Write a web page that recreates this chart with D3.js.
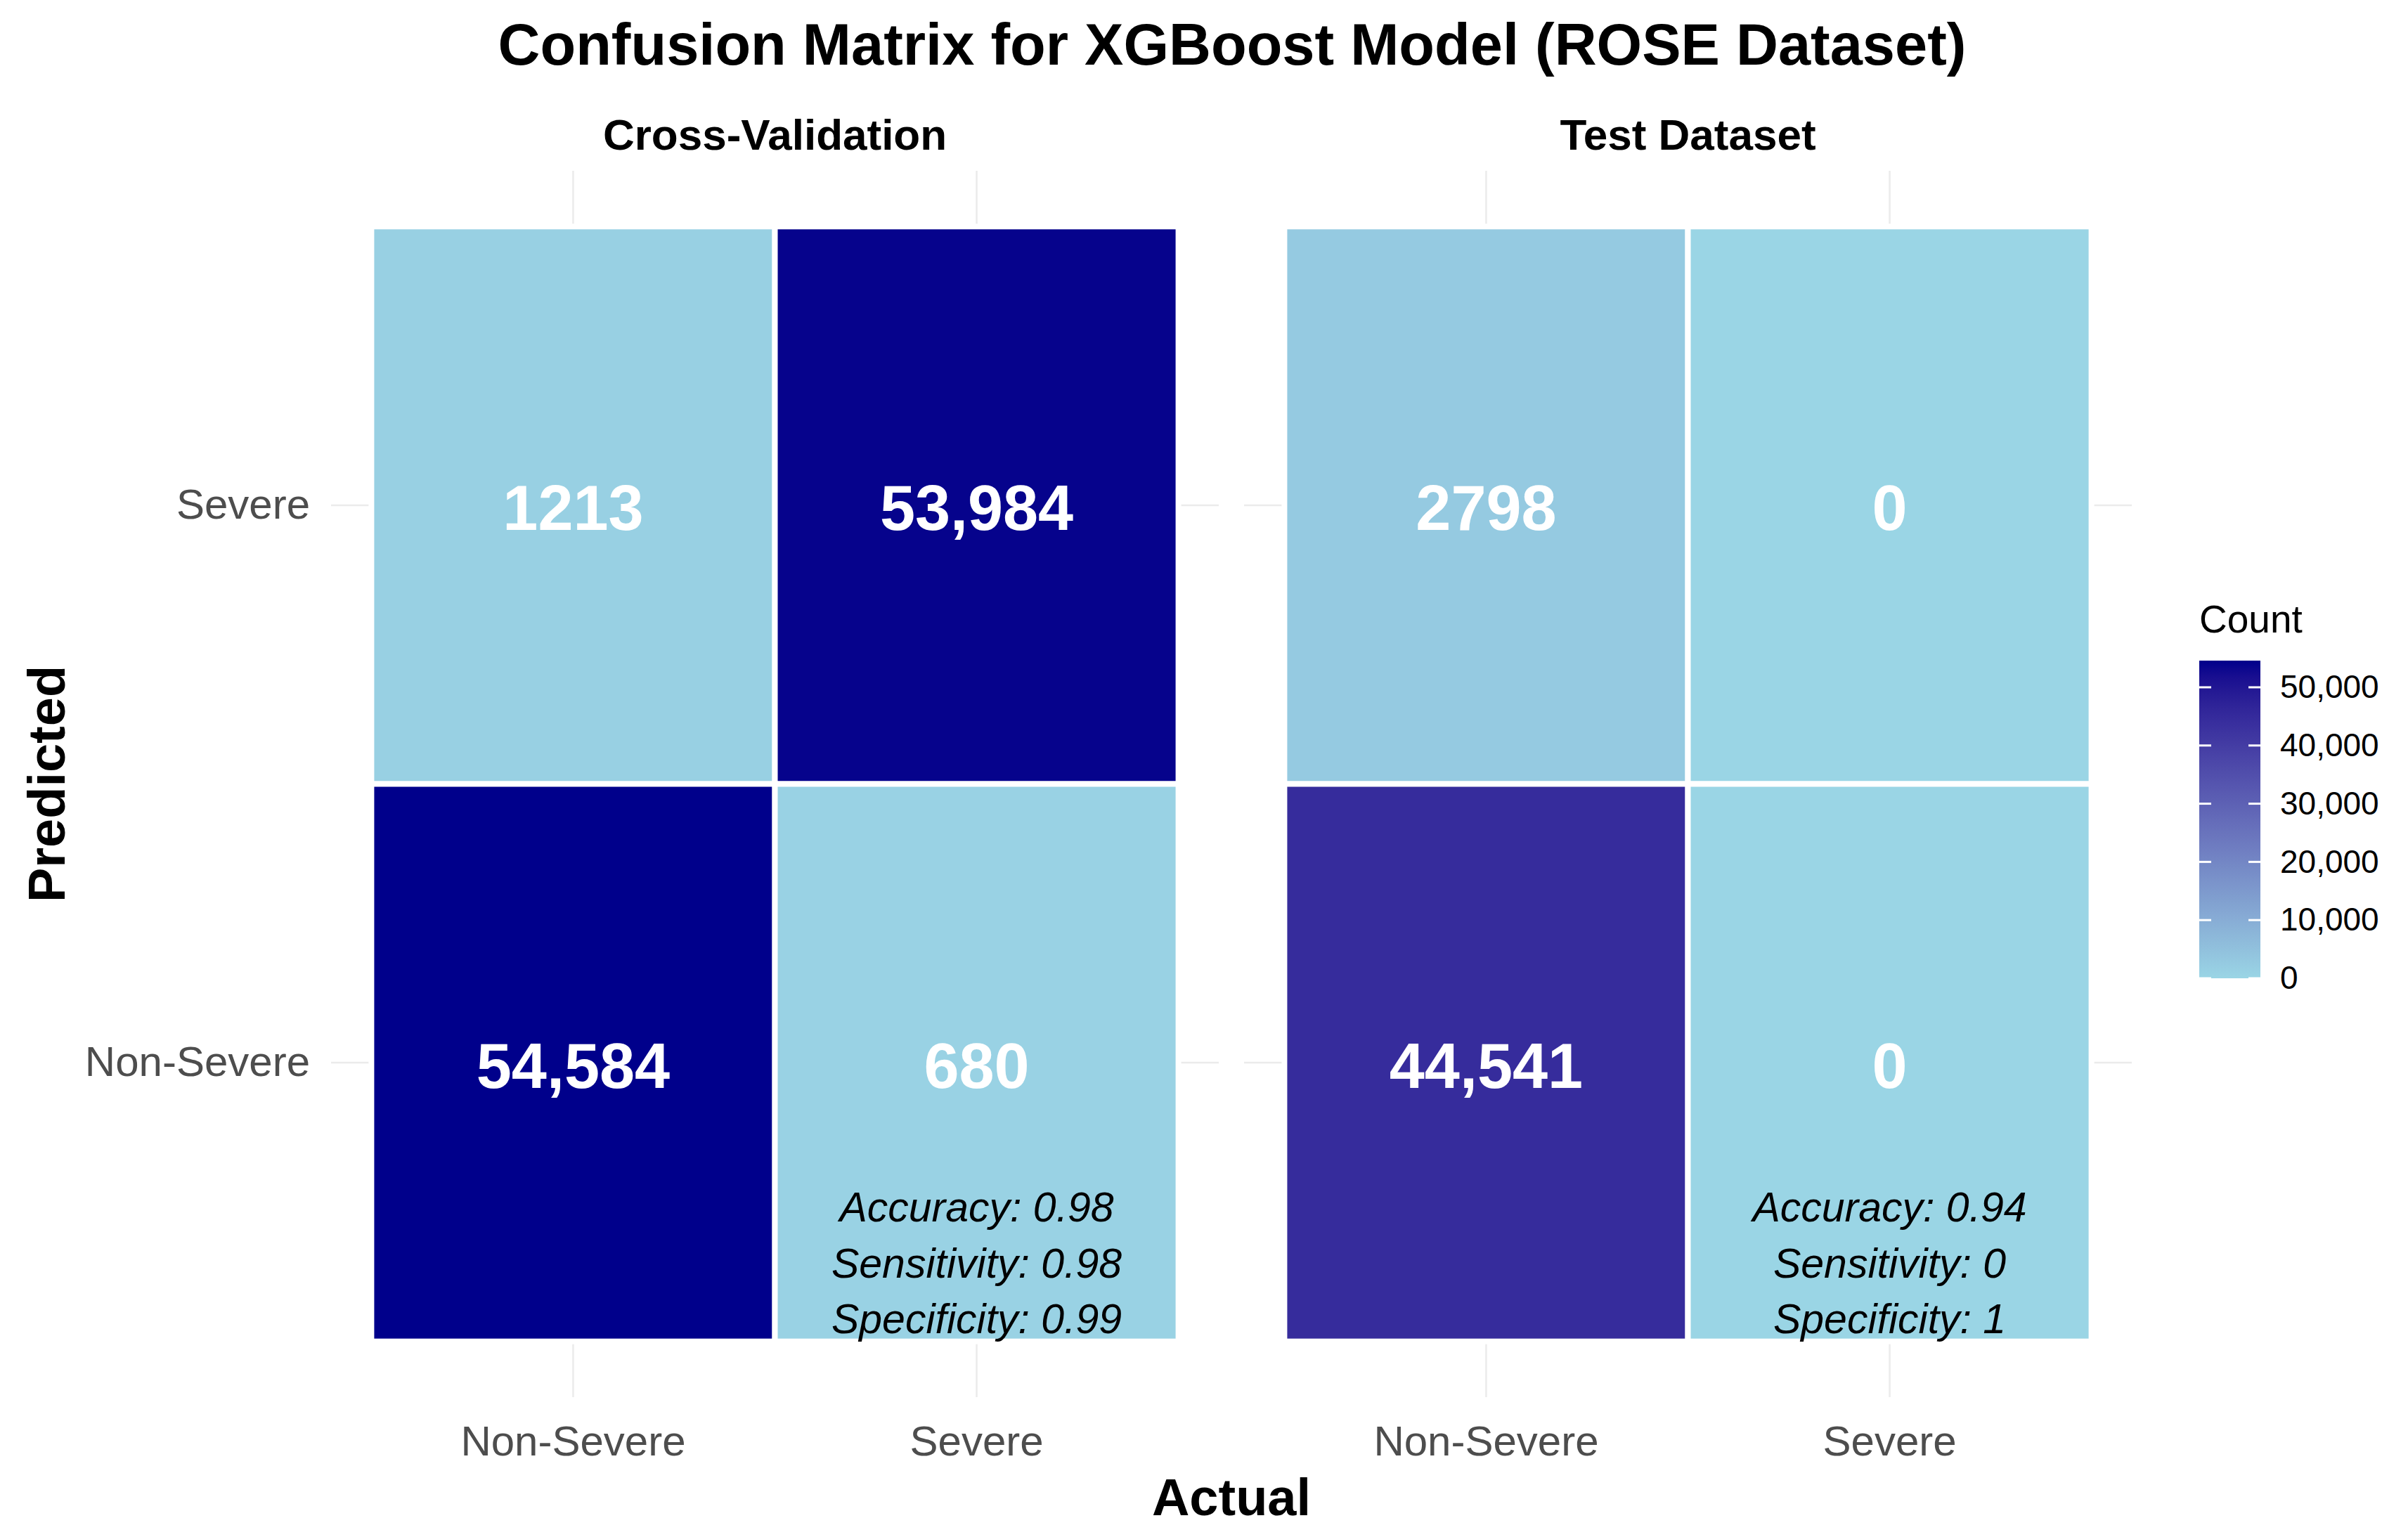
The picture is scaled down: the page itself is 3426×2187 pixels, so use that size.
<!DOCTYPE html>
<html>
<head>
<meta charset="utf-8">
<script src="https://cdn.jsdelivr.net/npm/d3@7"></script>
<style>
  body { margin: 0; background: #fff; }
  svg text { font-family: "Liberation Sans", Arial, sans-serif; }
</style>
</head>
<body>
<svg id="chart" width="3426" height="2187"></svg>
<script>
// data
var panels = ["Cross-Validation", "Test Dataset"];
var actualCats = ["Non-Severe", "Severe"];
var predictedCats = ["Severe", "Non-Severe"]; // top to bottom
// counts, per panel: [actual, predicted, count]
var cvCounts = [
  ["Non-Severe", "Severe", 1213],
  ["Severe", "Severe", 53984],
  ["Non-Severe", "Non-Severe", 54584],
  ["Severe", "Non-Severe", 680]
];
var testCounts = [
  ["Non-Severe", "Severe", 2798],
  ["Severe", "Severe", 0],
  ["Non-Severe", "Non-Severe", 44541],
  ["Severe", "Non-Severe", 0]
];
var metricNames = ["Accuracy", "Sensitivity", "Specificity"];
var cvMetrics = ["0.98", "0.98", "0.99"];
var testMetrics = ["0.94", "0", "1"];
var legendTicks = [0, 10000, 20000, 30000, 40000, 50000];

var svg = d3.select("#chart");
var panelTop = 243, panelBottom = 1988,
    panelLeft = 471, panelW = 1263, panelGap = 36;

var allCounts = cvCounts.concat(testCounts).map(function(d) { return d[2]; });
var maxCount = d3.max(allCounts);
var color = d3.scaleLinear()
  .domain([0, maxCount])
  .range(["#9ad5e5", "#00008b"])
  .interpolate(d3.interpolateLab);

var fmt = function(v) { return v >= 10000 ? d3.format(",")(v) : String(v); };

var y = d3.scaleBand().domain(predictedCats)
  .range([panelTop, panelBottom]).paddingInner(0).paddingOuter(0.1);

var panelData = [cvCounts, testCounts];
var panelMetrics = [cvMetrics, testMetrics];

panels.forEach(function(name, i) {
  var x0 = panelLeft + i * (panelW + panelGap);
  var x = d3.scaleBand().domain(actualCats)
    .range([x0, x0 + panelW]).paddingInner(0).paddingOuter(0.1);
  var g = svg.append("g");

  // grid
  g.selectAll(".vgrid").data(actualCats).enter().append("line")
    .attr("x1", function(d) { return x(d) + x.bandwidth() / 2; })
    .attr("x2", function(d) { return x(d) + x.bandwidth() / 2; })
    .attr("y1", panelTop).attr("y2", panelBottom)
    .attr("stroke", "#ebebeb").attr("stroke-width", 2.5);
  g.selectAll(".hgrid").data(predictedCats).enter().append("line")
    .attr("y1", function(d) { return y(d) + y.bandwidth() / 2; })
    .attr("y2", function(d) { return y(d) + y.bandwidth() / 2; })
    .attr("x1", x0).attr("x2", x0 + panelW)
    .attr("stroke", "#ebebeb").attr("stroke-width", 2.5);

  // tiles
  g.selectAll(".tile").data(panelData[i]).enter().append("rect")
    .attr("x", function(d) { return x(d[0]); })
    .attr("y", function(d) { return y(d[1]); })
    .attr("width", x.bandwidth())
    .attr("height", y.bandwidth())
    .attr("fill", function(d) { return color(d[2]); })
    .attr("stroke", "#fff").attr("stroke-width", 8);

  g.selectAll(".count").data(panelData[i]).enter().append("text")
    .attr("x", function(d) { return x(d[0]) + x.bandwidth() / 2; })
    .attr("y", function(d) { return y(d[1]) + y.bandwidth() / 2 + 4; })
    .attr("dy", "0.35em")
    .attr("text-anchor", "middle")
    .attr("font-size", 90).attr("font-weight", "bold")
    .attr("fill", "#fff")
    .text(function(d) { return fmt(d[2]); });

  // metrics
  var mx = x("Severe") + x.bandwidth() / 2;
  g.selectAll(".metric").data(metricNames).enter().append("text")
    .attr("x", mx)
    .attr("y", function(d, k) { return 1738 + k * 79.5; })
    .attr("text-anchor", "middle")
    .attr("font-size", 59).attr("font-style", "italic")
    .attr("fill", "#000")
    .text(function(d, k) { return d + ": " + panelMetrics[i][k]; });

  // facet label
  svg.append("text")
    .attr("x", x0 + panelW / 2).attr("y", 213)
    .attr("text-anchor", "middle")
    .attr("font-size", 62).attr("font-weight", "bold")
    .text(name);

  // x axis
  var xa = svg.append("g")
    .attr("transform", "translate(0," + panelBottom + ")")
    .call(d3.axisBottom(x).tickSize(0).tickPadding(40));
  xa.select(".domain").remove();
  xa.selectAll("text")
    .attr("font-size", 60).attr("fill", "#4d4d4d")
    .style("font-family", "Liberation Sans, Arial, sans-serif");
});

// y axis
var ya = svg.append("g")
  .attr("transform", "translate(" + panelLeft + ",0)")
  .call(d3.axisLeft(y).tickSize(0).tickPadding(30));
ya.select(".domain").remove();
ya.selectAll("text")
  .attr("font-size", 60).attr("fill", "#4d4d4d")
  .style("font-family", "Liberation Sans, Arial, sans-serif");

// titles
svg.append("text")
  .attr("x", 1753).attr("y", 92)
  .attr("text-anchor", "middle")
  .attr("font-size", 83).attr("font-weight", "bold")
  .text("Confusion Matrix for XGBoost Model (ROSE Dataset)");

svg.append("text")
  .attr("x", panelLeft + panelW + panelGap / 2).attr("y", 2156)
  .attr("text-anchor", "middle")
  .attr("font-size", 74).attr("font-weight", "bold")
  .text("Actual");

svg.append("text")
  .attr("transform", "translate(92," + (panelTop + panelBottom) / 2 + ") rotate(-90)")
  .attr("text-anchor", "middle")
  .attr("font-size", 74).attr("font-weight", "bold")
  .text("Predicted");

// legend
var lx = 3129, lw = 87;
var ly = d3.scaleLinear().domain([0, maxCount]).range([1392, 940]);
var grad = svg.append("defs").append("linearGradient")
  .attr("id", "grad").attr("x1", 0).attr("y1", 1).attr("x2", 0).attr("y2", 0);
d3.range(0, 1.0001, 0.05).forEach(function(t) {
  grad.append("stop").attr("offset", t).attr("stop-color", color(t * maxCount));
});
svg.append("rect")
  .attr("x", lx).attr("y", ly(maxCount))
  .attr("width", lw).attr("height", ly(0) - ly(maxCount))
  .attr("fill", "url(#grad)");
svg.selectAll(".ltick").data(legendTicks).enter().append("g")
  .each(function(v) {
    var s = d3.select(this);
    s.append("line").attr("x1", lx).attr("x2", lx + 17)
      .attr("y1", ly(v)).attr("y2", ly(v)).attr("stroke", "#fff").attr("stroke-width", 3);
    s.append("line").attr("x1", lx + lw - 17).attr("x2", lx + lw)
      .attr("y1", ly(v)).attr("y2", ly(v)).attr("stroke", "#fff").attr("stroke-width", 3);
  });
var la = svg.append("g")
  .attr("transform", "translate(" + (lx + lw) + ",0)")
  .call(d3.axisRight(ly).tickValues(legendTicks).tickFormat(d3.format(",")).tickSize(0).tickPadding(28));
la.select(".domain").remove();
la.selectAll("text")
  .attr("font-size", 46).attr("fill", "#000")
  .style("font-family", "Liberation Sans, Arial, sans-serif");

svg.append("text")
  .attr("x", lx).attr("y", 900)
  .attr("font-size", 55)
  .text("Count");
</script>
</body>
</html>
